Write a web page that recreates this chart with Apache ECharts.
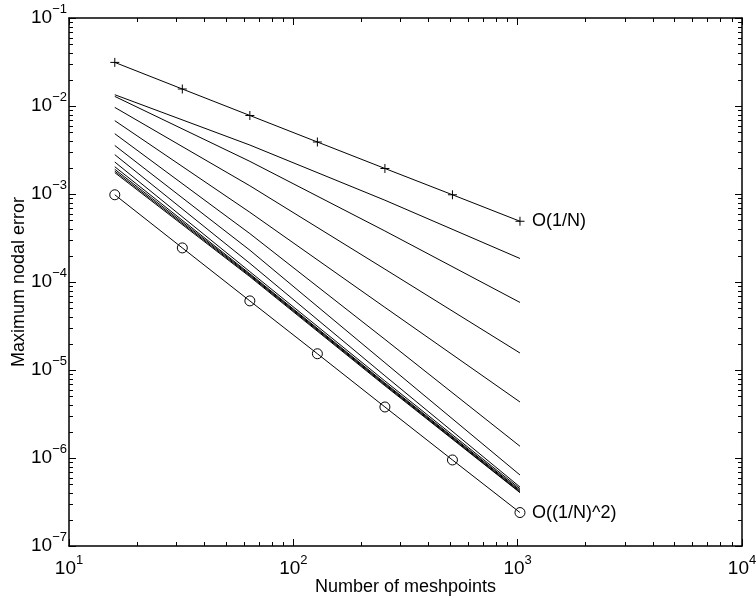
<!DOCTYPE html>
<html>
<head>
<meta charset="utf-8">
<title>Maximum nodal error</title>
<script src="https://cdn.jsdelivr.net/npm/echarts@6/dist/echarts.min.js"></script>
<style>
  html, body { margin: 0; padding: 0; background: #fff; }
  #chart { width: 756px; height: 599px; }
</style>
</head>
<body>
<div id="chart"></div>
<script>
// meshpoints used for the reference rates and for the computed errors
const meshN = [16, 32, 64, 128, 256, 512, 1024];
const sampleN = [16, 64, 256, 1024];

// reference slopes
const firstOrder = [0.0313, 0.0156, 0.0078, 0.0039, 0.00195, 0.00098, 0.00049];
const secondOrder = [9.8e-4, 2.44e-4, 6.1e-5, 1.53e-5, 3.8e-6, 9.5e-7, 2.4e-7];

// computed maximum nodal errors, read at N = 16, 64, 256, 1024
const err01 = [0.01343, 3.60e-3, 8.50e-4, 1.85e-4];
const err02 = [0.01285, 2.35e-3, 3.80e-4, 5.86e-5];
const err03 = [9.64e-3, 1.24e-3, 1.40e-4, 1.56e-5];
const err04 = [6.81e-3, 6.20e-4, 5.15e-5, 4.33e-6];
const err05 = [4.84e-3, 3.55e-4, 2.23e-5, 1.36e-6];
const err06 = [3.56e-3, 2.30e-4, 1.21e-5, 6.41e-7];
const err07 = [2.80e-3, 1.63e-4, 8.60e-6, 4.68e-7];
const err08 = [2.31e-3, 1.31e-4, 7.50e-6, 4.48e-7];
const err09 = [2.04e-3, 1.24e-4, 7.12e-6, 4.31e-7];
const err10 = [1.91e-3, 1.21e-4, 6.95e-6, 4.20e-7];
const err11 = [1.82e-3, 1.18e-4, 6.78e-6, 4.09e-7];
const err12 = [1.75e-3, 1.15e-4, 6.62e-6, 4.04e-7];
const errorRuns = [err01, err02, err03, err04, err05, err06, err07, err08, err09, err10, err11, err12];

// tick labels (exponents of ten)
const xTickExps = ['1', '2', '3', '4'];
const yTickExps = ['\u22127', '\u22126', '\u22125', '\u22124', '\u22123', '\u22122', '\u22121'];
const minorSteps = [2, 3, 4, 5, 6, 7, 8, 9];
const xDecades = [10, 100, 1000];
const yDecades = [1e-7, 1e-6, 1e-5, 1e-4, 1e-3, 1e-2];

const FONT = "'Liberation Sans', Arial, Helvetica, sans-serif";

const pairs = (xs, ys) => xs.map((x, i) => [x, ys[i]]);

const expLabel = (list, base) => (v) => {
  const k = Math.round(Math.log10(v)) - base;
  return '{b|10}{e|' + (list[k] || '') + '}';
};

const labelRich = {
  b: { fontSize: 19, fontFamily: FONT, color: '#000', lineHeight: 20 },
  e: { fontSize: 13, fontFamily: FONT, color: '#000', lineHeight: 14, padding: [0, 0, 18, 0] }
};

const minorX = [];
xDecades.forEach(d => minorSteps.forEach(m => minorX.push([d * m, 1e-7])));
const minorY = [];
yDecades.forEach(d => minorSteps.forEach(m => minorY.push([10, d * m])));

const tickSeries = (data, isX) => ({
  type: 'custom',
  silent: true,
  clip: false,
  z: 5,
  data: data,
  renderItem: (params, api) => {
    const p = api.coord([api.value(0), api.value(1)]);
    const cs = params.coordSys;
    const L = 4;
    const st = { stroke: '#000', lineWidth: 1 };
    let segs;
    if (isX) {
      const x = Math.round(p[0]) + 0.5;
      segs = [[x, cs.y + cs.height, x, cs.y + cs.height - L], [x, cs.y, x, cs.y + L]];
    } else {
      const y = Math.round(p[1]) + 0.5;
      segs = [[cs.x, y, cs.x + L, y], [cs.x + cs.width, y, cs.x + cs.width - L, y]];
    }
    return {
      type: 'group',
      children: segs.map(s => ({
        type: 'line',
        shape: { x1: s[0], y1: s[1], x2: s[2], y2: s[3] },
        style: st
      }))
    };
  }
});

const baseX = {
  type: 'log', logBase: 10, min: 10, max: 10000, interval: 1,
  axisLine: { show: true, onZero: false, lineStyle: { color: '#000', width: 1.5 } },
  axisTick: { show: true, inside: true, length: 7, lineStyle: { color: '#000', width: 1 } },
  splitLine: { show: false },
  minorTick: { show: false }
};
const baseY = {
  type: 'log', logBase: 10, min: 1e-7, max: 1e-1, interval: 1,
  axisLine: { show: true, onZero: false, lineStyle: { color: '#000', width: 1.5 } },
  axisTick: { show: true, inside: true, length: 7, lineStyle: { color: '#000', width: 1 } },
  splitLine: { show: false },
  minorTick: { show: false }
};

const series = [];
series.push({
  name: 'O(1/N)', type: 'line', data: pairs(meshN, firstOrder),
  symbol: 'path://M0,5L10,5M5,0L5,10', symbolSize: 9, showSymbol: true,
  itemStyle: { color: '#000', borderColor: '#000', borderWidth: 1 },
  lineStyle: { color: '#000', width: 1 },
  endLabel: { show: true, formatter: 'O(1/N)', distance: 12, fontSize: 18, fontFamily: FONT, color: '#000' },
  z: 3
});
errorRuns.forEach((run, i) => {
  series.push({
    name: 'run' + (i + 1), type: 'line', data: pairs(sampleN, run),
    symbol: 'none', lineStyle: { color: '#000', width: 1 }, z: 2
  });
});
series.push({
  name: 'O((1/N)^2)', type: 'line', data: pairs(meshN, secondOrder),
  symbol: 'circle', symbolSize: 10, showSymbol: true,
  itemStyle: { color: 'rgba(0,0,0,0)', borderColor: '#000', borderWidth: 1 },
  lineStyle: { color: '#000', width: 1 },
  endLabel: { show: true, formatter: 'O((1/N)^2)', distance: 12, fontSize: 18, fontFamily: FONT, color: '#000' },
  z: 3
});
series.push(tickSeries(minorX, true));
series.push(tickSeries(minorY, false));

const option = {
  animation: false,
  backgroundColor: '#fff',
  grid: { left: 69, right: 14, top: 18, bottom: 53, containLabel: false, outerBoundsMode: 'none' },
  xAxis: [
    Object.assign({}, baseX, {
      position: 'bottom',
      name: 'Number of meshpoints', nameLocation: 'middle', nameGap: 32, nameMoveOverlap: false,
      nameTextStyle: { fontSize: 18, fontFamily: FONT, color: '#000' },
      axisLabel: { show: true, margin: 13, formatter: expLabel(xTickExps, 1), rich: labelRich }
    }),
    Object.assign({}, baseX, { position: 'top', axisLabel: { show: false } })
  ],
  yAxis: [
    Object.assign({}, baseY, {
      position: 'left',
      name: 'Maximum nodal error', nameLocation: 'middle', nameGap: 41, nameMoveOverlap: false,
      nameTextStyle: { fontSize: 18, fontFamily: FONT, color: '#000' },
      axisLabel: { show: true, margin: 2, formatter: expLabel(yTickExps, -7), rich: labelRich }
    }),
    Object.assign({}, baseY, { position: 'right', axisLabel: { show: false } })
  ],
  series: series
};

const chart = echarts.init(document.getElementById('chart'), null, { renderer: 'canvas' });
chart.setOption(option);
</script>
</body>
</html>
